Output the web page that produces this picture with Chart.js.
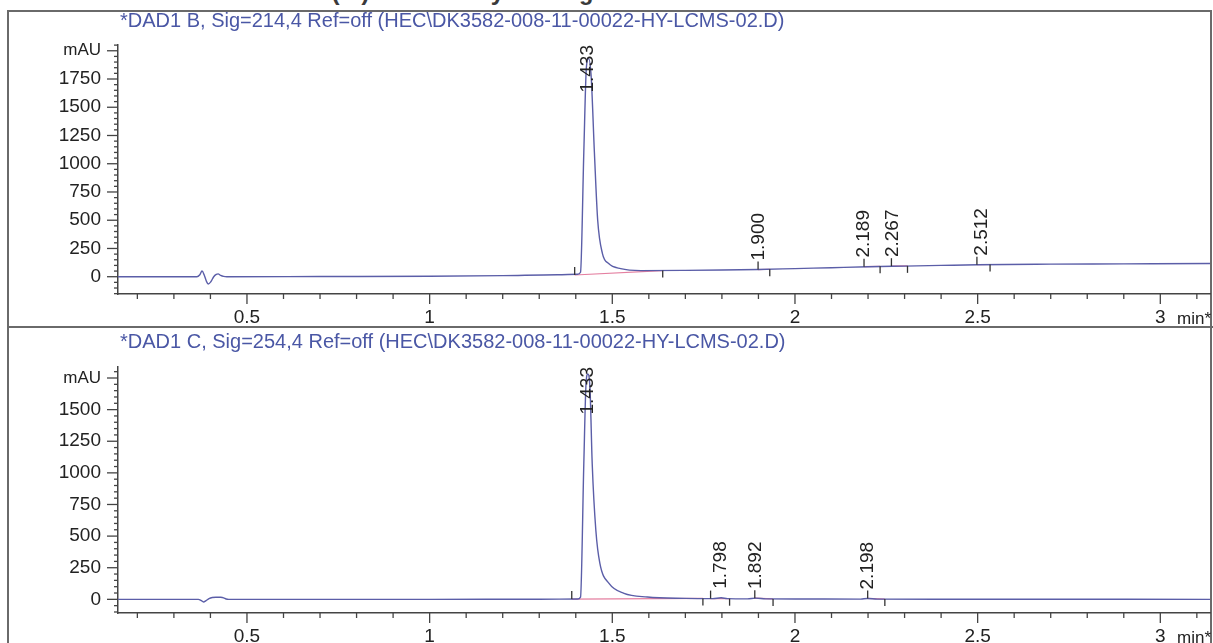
<!DOCTYPE html>
<html>
<head>
<meta charset="utf-8">
<script src="https://cdn.jsdelivr.net/npm/chart.js@4.4.1/dist/chart.umd.min.js"></script>
<style>
  body { margin: 0; background: #fff; }
  #page { position: relative; width: 1213px; height: 643px; overflow: hidden; font-family: 'Liberation Sans', Arial, sans-serif; }
  .frame { position: absolute; left: 7px; top: 10px; width: 1201px; height: 700px; border: 2px solid #6a6a6a; }
  .sep { position: absolute; left: 7px; top: 326px; width: 1206px; height: 2px; background: #6a6a6a; }
  canvas { position: absolute; left: 0; }
  .title { position: absolute; left: 120px; font-size: 20px; line-height: 22px; color: #4a57a5; white-space: nowrap; }
  .header { position: absolute; left: 5px; top: -18px; font: bold 24.5px 'Liberation Mono', monospace; line-height: 24.5px; color: #3a3a3a; white-space: nowrap; }
</style>
</head>
<body>
<div id="page">
  <div class="header">Additional Info : Peak(s) manually integrated</div>
  <div class="frame"></div>
  <div class="sep"></div>
  <canvas id="sigB" width="1213" height="327" style="top:0"></canvas>
  <canvas id="sigC" width="1213" height="315" style="top:328px"></canvas>
  <div class="title" style="top:9px">*DAD1 B, Sig=214,4 Ref=off (HEC\DK3582-008-11-00022-HY-LCMS-02.D)</div>
  <div class="title" style="top:330px">*DAD1 C, Sig=254,4 Ref=off (HEC\DK3582-008-11-00022-HY-LCMS-02.D)</div>
</div>
<script>
// retention time (min) and absorbance (mAU)
const timeB = [0.147, 0.363, 0.371, 0.377, 0.383, 0.389, 0.394, 0.401, 0.409, 0.416, 0.421, 0.428, 0.436, 0.445,
  0.7, 1.0, 1.2, 1.35, 1.405, 1.413, 1.422, 1.429, 1.435, 1.442, 1.451, 1.460, 1.473, 1.490, 1.523, 1.578,
  1.7, 1.8, 1.9, 2.0, 2.1, 2.2, 2.3, 2.4, 2.5, 2.7, 2.9, 3.136];
const mauB = [0, 0, 18, 50, 15, -40, -65, -45, 0, 20, 25, 12, 3, 0,
  2, 4, 10, 18, 22, 40, 1100, 1850, 1930, 1780, 1100, 500, 205, 116, 71, 54,
  56, 59, 64, 72, 80, 88, 94, 100, 106, 111, 114, 117];

const timeC = [0.147, 0.367, 0.374, 0.381, 0.388, 0.396, 0.405, 0.415, 0.428, 0.436, 0.443, 0.450,
  1.0, 1.3, 1.405, 1.413, 1.422, 1.428, 1.433, 1.439, 1.445, 1.455, 1.466, 1.491, 1.532, 1.596,
  1.7, 1.775, 1.798, 1.815, 1.870, 1.892, 1.920, 2.0, 2.180, 2.198, 2.225, 2.5, 2.8, 3.136];
const mauC = [0, 0, -8, -21, -10, 6, 15, 17, 16, 12, 3, 0,
  0, 1, 3, 18, 1072, 1700, 1782, 1660, 1072, 544, 284, 126, 47, 18,
  8, 6, 12, 6, 4, 10, 4, 3, 2, 7, 2, 1, 1, 0];

// integrated peaks: apex time, apex height, baseline start/end
const peaksB = [1.433, 1.900, 2.189, 2.267, 2.512];
const apexB = [1930, 64, 90, 94, 107];
const startB = [1.397, 1.899, 2.189, 2.264, 2.498];
const endB = [1.638, 1.931, 2.233, 2.308, 2.534];
const startValB = [15, 63, 89, 93, 106];
const endValB = [54, 66, 92, 96, 108];

const peaksC = [1.433, 1.798, 1.892, 2.198];
const apexC = [1782, 12, 10, 7];
const startC = [1.389, 1.769, 1.890, 2.199];
const endC = [1.748, 1.821, 1.940, 2.246];
const startValC = [2, 6, 9, 7];
const endValC = [7, 5, 3, 2];

const xLabels = [0.5, 1, 1.5, 2, 2.5, 3];
const yLabelsB = [0, 250, 500, 750, 1000, 1250, 1500, 1750];
const yLabelsC = [0, 250, 500, 750, 1000, 1250, 1500];

Chart.defaults.font.family = "'Liberation Sans', Arial, sans-serif";

// axis tick marks (long for labelled ones), peak markers and rotated RT labels
const marks = {
  id: 'marks',
  afterDraw(chart, args, o) {
    const {ctx, chartArea: a, scales: {x, y}} = chart;
    const line = (x1, y1, x2, y2) => { ctx.beginPath(); ctx.moveTo(x1, y1); ctx.lineTo(x2, y2); ctx.stroke(); };
    ctx.save();
    ctx.strokeStyle = '#444';
    ctx.lineWidth = 1.3;
    x.ticks.forEach(t => {
      const px = x.getPixelForValue(t.value);
      line(px, a.bottom, px, a.bottom + (t.label ? 10 : 5));
    });
    y.ticks.forEach(t => {
      const py = y.getPixelForValue(t.value);
      line(a.left - (t.label ? 11 : 4), py, a.left, py);
    });
    ctx.strokeStyle = '#333';
    o.start.forEach((t, i) => {
      const px = x.getPixelForValue(t), py = y.getPixelForValue(o.startVal[i]);
      line(px, py, px, py - 8);
    });
    o.end.forEach((t, i) => {
      const px = x.getPixelForValue(t), py = y.getPixelForValue(o.endVal[i]);
      line(px, py, px, py + 7);
    });
    ctx.font = "19px 'Liberation Sans', Arial, sans-serif";
    ctx.fillStyle = '#222';
    ctx.textAlign = 'left';
    ctx.textBaseline = 'middle';
    o.peaks.forEach((t, i) => {
      const label = t.toFixed(3);
      const w = ctx.measureText(label).width;
      const by = Math.max(y.getPixelForValue(o.apex[i]) - 9, a.top + w);
      ctx.save();
      ctx.translate(x.getPixelForValue(t), by);
      ctx.rotate(-Math.PI / 2);
      ctx.fillText(label, 0, 0);
      ctx.restore();
    });
    ctx.font = "17px 'Liberation Sans', Arial, sans-serif";
    ctx.textBaseline = 'alphabetic';
    ctx.fillText('min*', 1177, a.bottom + 30);
    ctx.restore();
  }
};

function makeChart(id, time, mau, peaks, apex, start, end, startVal, endVal, yMin, yMax, yLabels, unitTick, padTop, xHeight) {
  const baselines = start.map((t, i) => ({
    data: [{x: t, y: startVal[i]}, {x: end[i], y: endVal[i]}],
    borderColor: '#e47fa0',
    borderWidth: 1.2,
    pointRadius: 0
  }));
  new Chart(document.getElementById(id), {
    type: 'line',
    data: {
      datasets: [{
        data: time.map((t, i) => ({x: t, y: mau[i]})),
        borderColor: '#5b5ea8',
        borderWidth: 1.4,
        pointRadius: 0,
        cubicInterpolationMode: 'monotone'
      }, ...baselines]
    },
    options: {
      responsive: false,
      animation: false,
      events: [],
      layout: { padding: { left: 0, right: 3, top: padTop, bottom: 0 } },
      plugins: {
        legend: { display: false },
        tooltip: { enabled: false },
        marks: { peaks, apex, start, end, startVal, endVal }
      },
      scales: {
        x: {
          type: 'linear',
          min: 0.147,
          max: 3.136,
          afterBuildTicks: s => {
            const t = [];
            for (let k = 2; k <= 31; k++) t.push({ value: k / 10 });
            s.ticks = t;
          },
          afterFit: s => { s.height = xHeight; },
          grid: { display: false, drawTicks: false },
          border: { color: '#444', width: 1.5 },
          ticks: {
            autoSkip: false, maxRotation: 0, minRotation: 0, padding: 12,
            color: '#222', font: { size: 19 },
            callback: v => xLabels.includes(v) ? String(v) : ''
          }
        },
        y: {
          min: yMin,
          max: yMax,
          afterBuildTicks: s => {
            const t = [];
            for (let v = Math.ceil(yMin / 50) * 50; v <= yMax; v += 50) t.push({ value: v });
            s.ticks = t;
          },
          afterFit: s => { s.width = 118; },
          grid: { display: false, drawTicks: false },
          border: { color: '#444', width: 1.5 },
          ticks: {
            autoSkip: false, padding: 17, color: '#222',
            font: c => ({ size: c.tick && c.tick.value === unitTick ? 17 : 19 }),
            callback: v => v === unitTick ? 'mAU' : (yLabels.includes(v) ? String(v) : '')
          }
        }
      }
    },
    plugins: [marks]
  });
}

makeChart('sigB', timeB, mauB, peaksB, apexB, startB, endB, startValB, endValB, -153, 2051, yLabelsB, 2000, 45, 33);
makeChart('sigC', timeC, mauC, peaksC, apexC, startC, endC, startValC, endValC, -108, 1837, yLabelsC, 1750, 39, 30);
</script>
</body>
</html>
